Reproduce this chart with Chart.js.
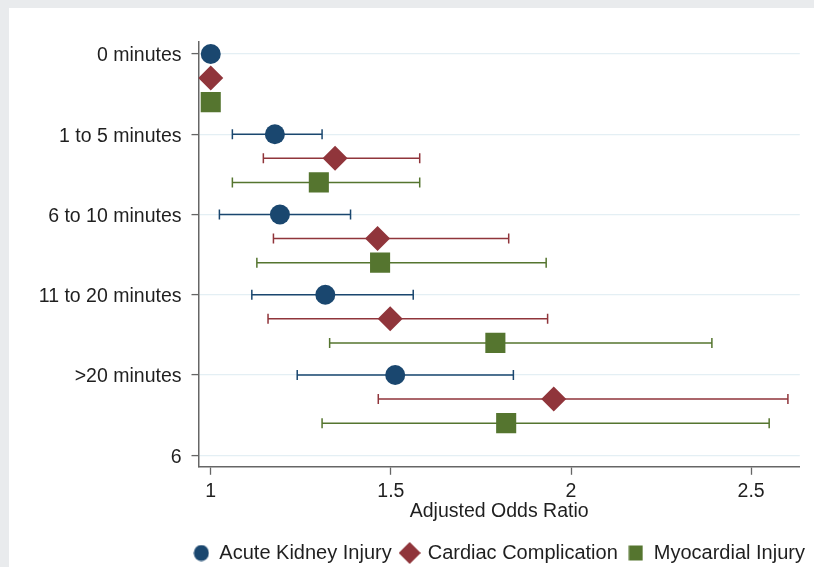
<!DOCTYPE html>
<html>
<head>
<meta charset="utf-8">
<script src="https://cdn.jsdelivr.net/npm/chart.js@4"></script>
<style>
  html, body { margin: 0; padding: 0; background: #e9ebed; }
  #panel { position: absolute; left: 9px; top: 8px; width: 805px; height: 559px; background: #ffffff; }
  canvas { display: block; }
</style>
</head>
<body>
<div id="panel"><canvas id="forestChart" width="805" height="559"></canvas></div>
<script>
// categorias do eixo Y (o Stata deixou o "6" sem rótulo)
const categories = ['0 minutes', '1 to 5 minutes', '6 to 10 minutes', '11 to 20 minutes', '>20 minutes', '6'];
const yTickValues = [1, 2, 3, 4, 5, 6];
const xTickValues = [1, 1.5, 2, 2.5];
const seriesNames = ['Acute Kidney Injury', 'Cardiac Complication', 'Myocardial Injury'];

// odds ratios e intervalos de confiança, uma linha por categoria (0 minutes = referência)
const akiOR   = [1, 1.178, 1.192, 1.318, 1.512];
const akiLow  = [null, 1.060, 1.024, 1.114, 1.240];
const akiHigh = [null, 1.309, 1.388, 1.562, 1.840];

const cardiacOR   = [1, 1.345, 1.463, 1.498, 1.952];
const cardiacLow  = [null, 1.146, 1.174, 1.159, 1.465];
const cardiacHigh = [null, 1.580, 1.827, 1.935, 2.602];

const myoOR   = [1, 1.300, 1.470, 1.790, 1.820];
const myoLow  = [null, 1.060, 1.128, 1.330, 1.309];
const myoHigh = [null, 1.580, 1.931, 2.391, 2.550];

const colors = ['#1a476f', '#90353b', '#55752f'];
const shapes = ['circle', 'rectRot', 'rect'];
const radii = [10, 12.5, 14.2];
const rowShift = [0, 0.3, 0.6];

const FONT = "'Liberation Sans', Arial, Helvetica, sans-serif";
const AXIS_GREY = '#666666';

function buildSeries(idx, or, low, high) {
    return {
        label: seriesNames[idx],
        data: or.map((v, i) => ({ x: v, y: yTickValues[i] + rowShift[idx] })),
        errLow: low,
        errHigh: high,
        backgroundColor: colors[idx],
        borderColor: colors[idx],
        borderWidth: 0,
        pointStyle: shapes[idx],
        pointRadius: radii[idx],
        pointHoverRadius: radii[idx]
    };
}

// marcadores menores para a legenda
function legendMarker(shape, color, w, h) {
    const c = document.createElement('canvas');
    c.width = w; c.height = h;
    const g = c.getContext('2d');
    g.fillStyle = color;
    g.beginPath();
    if (shape === 'circle') {
        g.ellipse(w / 2, h / 2, w / 2 - 0.5, h / 2 - 0.5, 0, 0, Math.PI * 2);
    } else if (shape === 'rectRot') {
        g.moveTo(w / 2, 0); g.lineTo(w, h / 2); g.lineTo(w / 2, h); g.lineTo(0, h / 2); g.closePath();
    } else {
        g.rect(0.5, 0.5, w - 1, h - 1);
    }
    g.fill();
    return c;
}
const legendSizes = [[16, 17], [22, 22], [15, 16]];

// barras de erro horizontais com "tampinhas"
const errorBars = {
    id: 'errorBars',
    beforeDatasetsDraw(chart) {
        const { ctx, scales: { x, y } } = chart;
        ctx.save();
        chart.data.datasets.forEach(ds => {
            ctx.strokeStyle = ds.borderColor;
            ctx.lineWidth = 1.5;
            ds.data.forEach((p, i) => {
                const lo = ds.errLow[i], hi = ds.errHigh[i];
                if (lo == null || hi == null) return;
                const py = y.getPixelForValue(p.y);
                const x1 = x.getPixelForValue(lo);
                const x2 = x.getPixelForValue(hi);
                ctx.beginPath();
                ctx.moveTo(x1, py); ctx.lineTo(x2, py);
                ctx.moveTo(x1, py - 5); ctx.lineTo(x1, py + 5);
                ctx.moveTo(x2, py - 5); ctx.lineTo(x2, py + 5);
                ctx.stroke();
            });
        });
        ctx.restore();
    }
};

// legenda centrada na área do gráfico, como no Stata
const legendShift = {
    id: 'legendShift',
    afterLayout(chart) {
        const lg = chart.legend;
        const dx = (chart.chartArea.left + chart.chartArea.right) / 2 - (lg.left + lg.right) / 2;
        lg.left += dx; lg.right += dx;
        lg.top += 6; lg.bottom += 6;
    }
};

document.addEventListener('DOMContentLoaded', () => {
    const ctx = document.getElementById('forestChart').getContext('2d');

    new Chart(ctx, {
        type: 'scatter',
        data: {
            datasets: [
                buildSeries(0, akiOR, akiLow, akiHigh),
                buildSeries(1, cardiacOR, cardiacLow, cardiacHigh),
                buildSeries(2, myoOR, myoLow, myoHigh)
            ]
        },
        options: {
            responsive: false,
            animation: false,
            layout: { padding: { top: 33.7, right: 11.3, left: 0, bottom: 0 } },
            plugins: {
                tooltip: { enabled: false },
                legend: {
                    position: 'bottom',
                    labels: {
                        usePointStyle: true,
                        boxWidth: 16,
                        boxHeight: 16,
                        padding: 10,
                        color: '#1f1f1f',
                        font: { family: FONT, size: 20 },
                        generateLabels(chart) {
                            return chart.data.datasets.map((ds, i) => ({
                                text: ds.label,
                                fillStyle: ds.backgroundColor,
                                strokeStyle: ds.backgroundColor,
                                lineWidth: 0,
                                pointStyle: legendMarker(shapes[i], colors[i], legendSizes[i][0], legendSizes[i][1]),
                                fontColor: '#1f1f1f',
                                datasetIndex: i
                            }));
                        }
                    }
                }
            },
            scales: {
                x: {
                    type: 'linear',
                    min: 0.966,
                    max: 2.635,
                    afterBuildTicks(scale) {
                        scale.ticks = xTickValues.map(v => ({ value: v }));
                    },
                    afterFit(scale) {
                        scale.height = 60.2;
                        scale.paddingLeft = 0;
                        scale.paddingRight = 0;
                    },
                    grid: { drawOnChartArea: false, drawTicks: true, tickLength: 8, tickColor: AXIS_GREY, tickWidth: 1.3 },
                    border: { display: true, color: AXIS_GREY, width: 1.5 },
                    ticks: {
                        color: '#1f1f1f',
                        padding: 5,
                        font: { family: FONT, size: 19.5 },
                        callback: v => String(v)
                    },
                    title: {
                        display: true,
                        text: 'Adjusted Odds Ratio',
                        color: '#1f1f1f',
                        font: { family: FONT, size: 19.5 },
                        padding: { top: 0, bottom: 4 }
                    }
                },
                y: {
                    type: 'linear',
                    reverse: true,
                    min: 0.847,
                    max: 6.144,
                    afterBuildTicks(scale) {
                        scale.ticks = yTickValues.map(v => ({ value: v }));
                    },
                    afterFit(scale) { scale.width = 189.5; },
                    grid: { color: '#e4eff4', lineWidth: 1.2, drawTicks: true, tickLength: 7, tickColor: AXIS_GREY, tickWidth: 1.3 },
                    border: { display: true, color: AXIS_GREY, width: 1.5 },
                    ticks: {
                        color: '#1f1f1f',
                        padding: 10,
                        labelOffset: 2,
                        font: { family: FONT, size: 19.5 },
                        callback: v => categories[yTickValues.indexOf(v)]
                    }
                }
            }
        },
        plugins: [errorBars, legendShift]
    });
});
</script>
</body>
</html>
